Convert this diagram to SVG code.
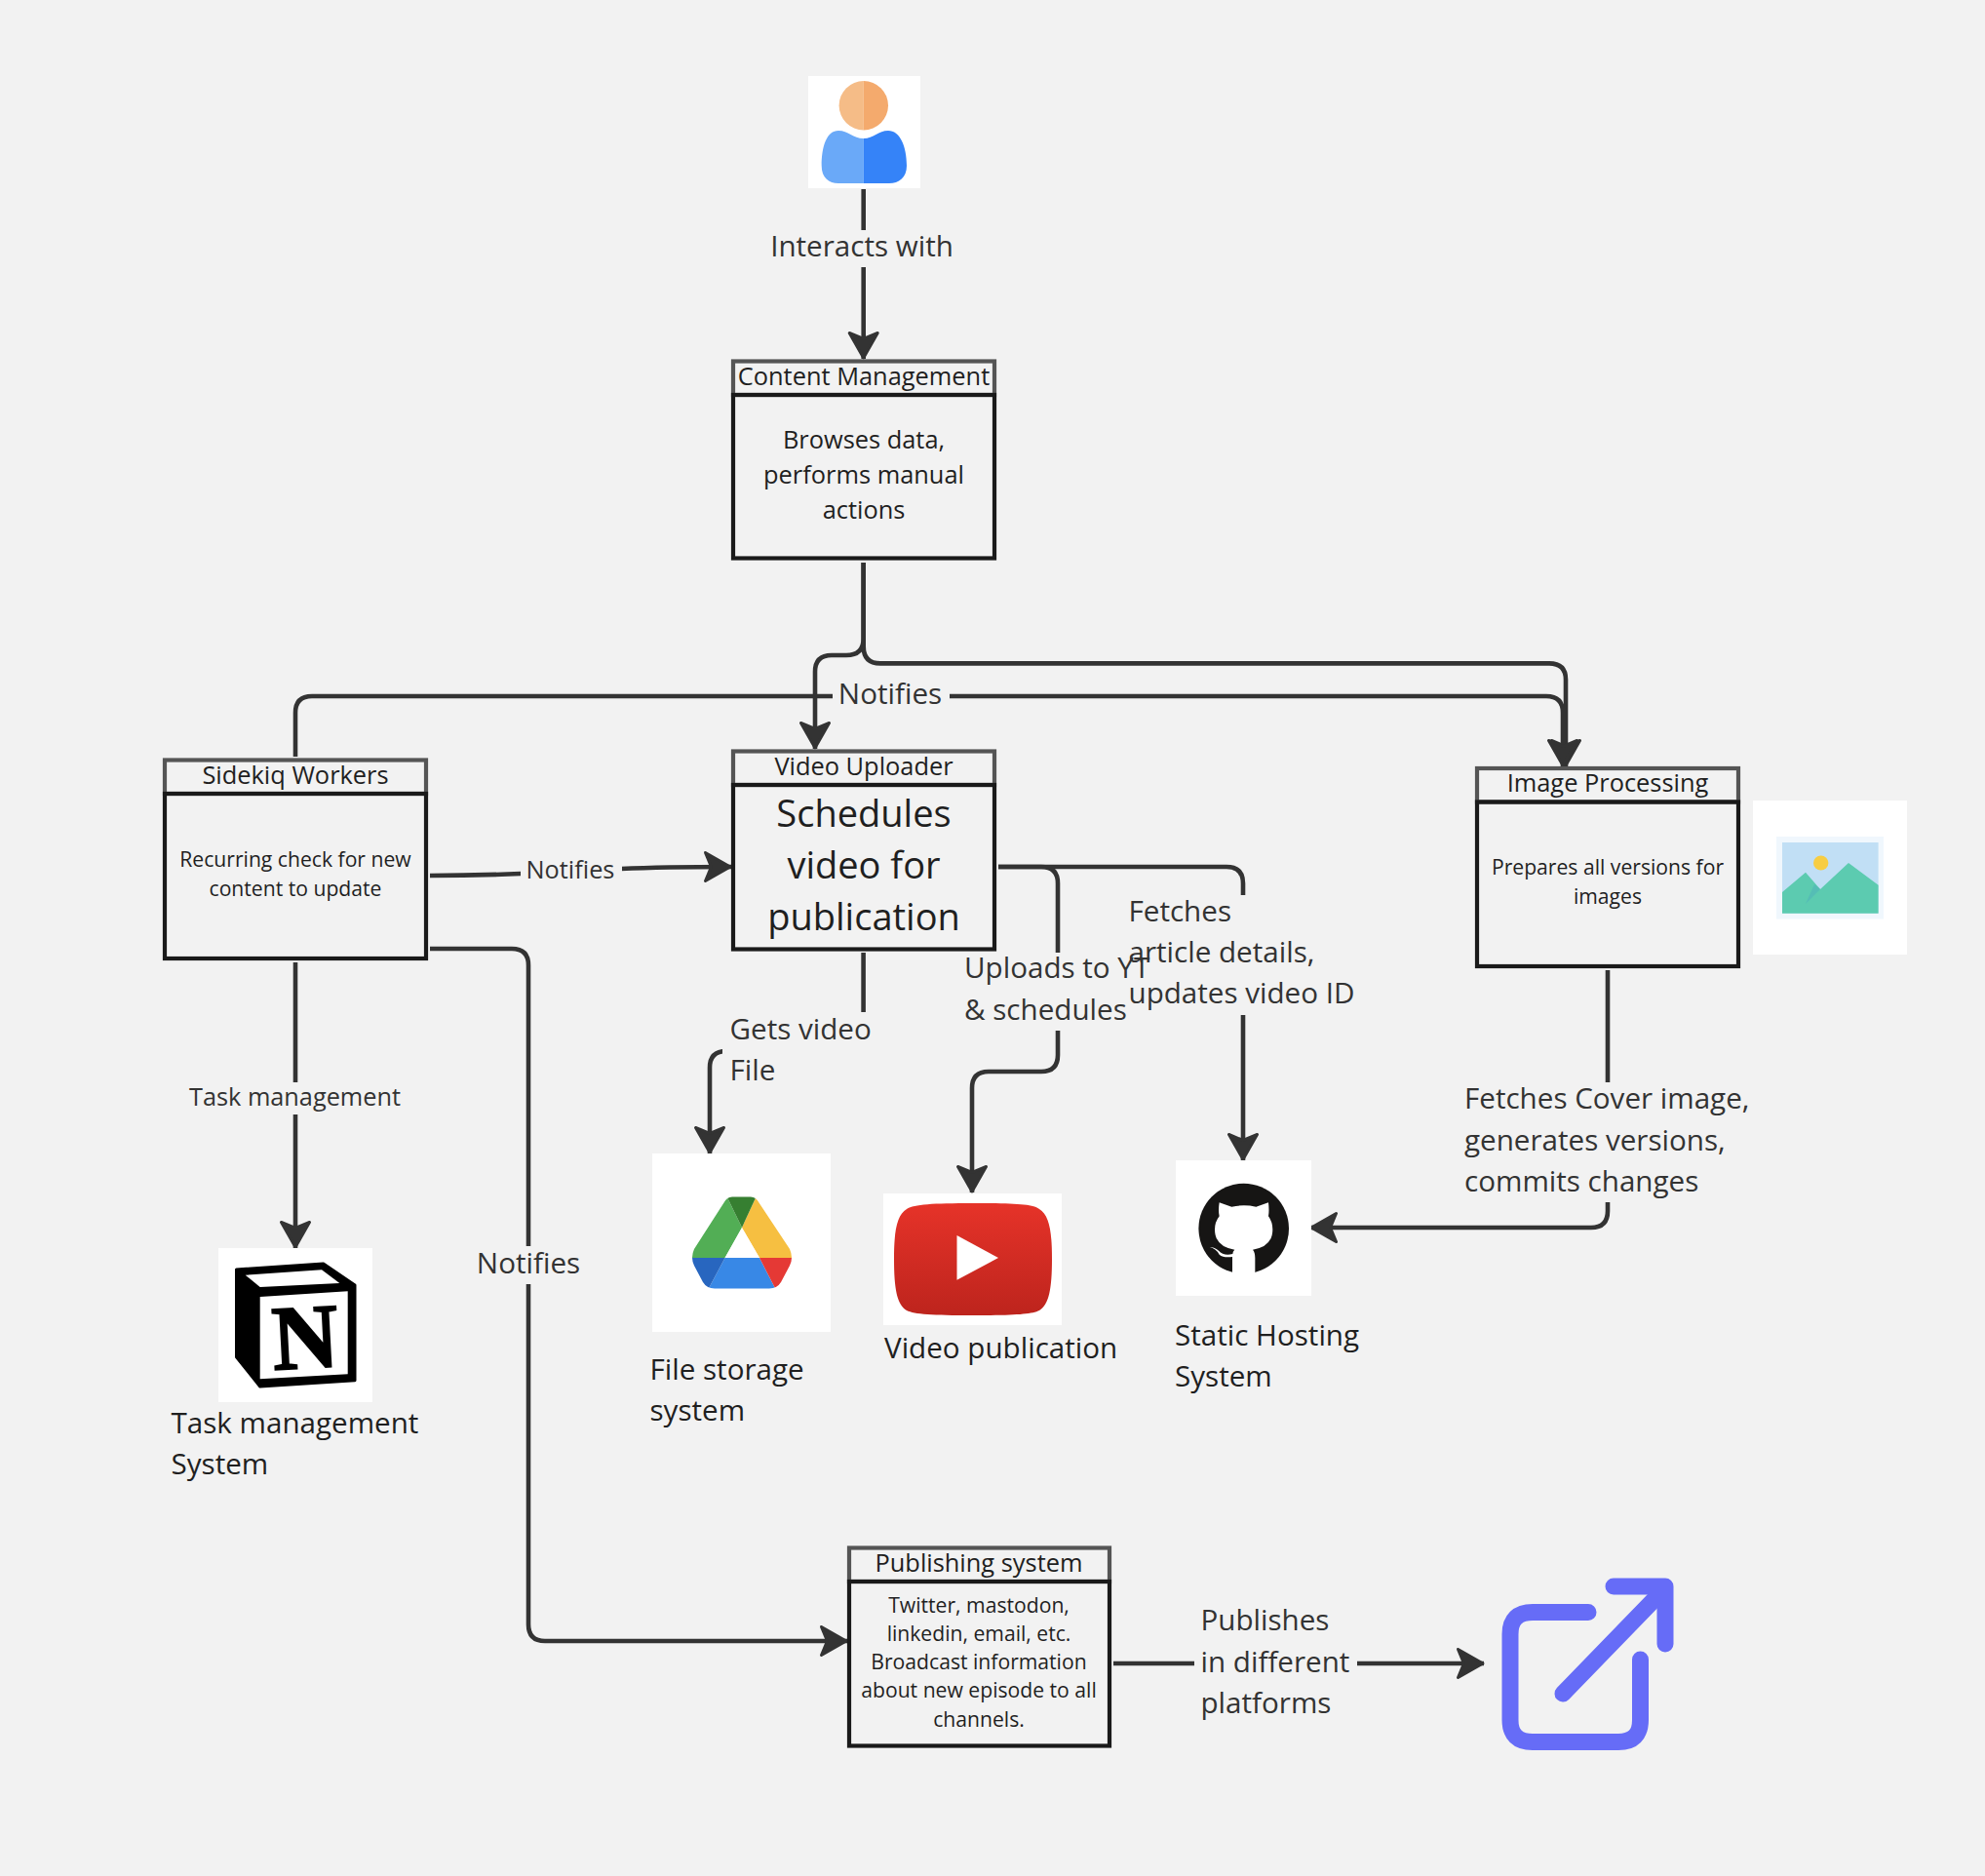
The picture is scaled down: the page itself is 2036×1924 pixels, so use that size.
<svg xmlns="http://www.w3.org/2000/svg" width="2036" height="1924" viewBox="0 0 2036 1924">
<style>
text{font-family:"Open Sans","Noto Sans","DejaVu Sans",sans-serif}
.hd{fill:none;stroke:#555;stroke-width:4.2}
.bd{fill:none;stroke:#1a1a1a;stroke-width:4.2}
.t{fill:#1f1f1f;text-anchor:middle}
.h{font-size:25.4px}
.s{font-size:21.15px}
.c{fill:none;stroke:#333;stroke-width:4.6;stroke-linejoin:round}
.l{fill:#333;font-size:29.6px}
.m{fill:#333;font-size:25.3px}
.d{fill:#1f1f1f;font-size:29.6px}
.bg{fill:#f2f2f2}
</style>
<defs>
<marker id="ah" markerUnits="userSpaceOnUse" markerWidth="36" markerHeight="36" refX="28" refY="16" orient="auto" overflow="visible"><path d="M1.5 1.5L27 16L1.5 30.5L7.5 16Z" fill="#333" stroke="#333" stroke-width="3" stroke-linejoin="round"/></marker>
<linearGradient id="yt" x1="0" y1="0" x2="0" y2="1"><stop offset="0" stop-color="#e63329"/><stop offset="1" stop-color="#bd241d"/></linearGradient>
<clipPath id="drive"><path d="M751 1227.500H770Q775.500 1227.500 778.500 1233.500L810 1281Q814 1290 810 1298L801 1315Q797 1321.500 789 1321.500H733Q725 1321.500 721 1315L712 1298Q708 1290 712 1281L742.500 1233.500Q745.500 1227.500 751 1227.500Z"/></clipPath>
</defs>
<rect width="2036" height="1924" fill="#f2f2f2"/>
<g id="connectors">
<path class="c" marker-end="url(#ah)" d="M885.7 194V368"/>
<path class="c" marker-end="url(#ah)" d="M885.7 577V655Q885.7 672 868 672H853Q836 672 836 689V768"/>
<path class="c" marker-end="url(#ah)" d="M885.7 577V663Q885.7 680.4 903 680.4H1589Q1606 680.4 1606 697V786"/>
<path class="c" marker-end="url(#ah)" d="M303 776V731Q303 714 320 714H1586Q1603 714 1603 731V786"/>
<path class="c" marker-end="url(#ah)" d="M441 898C480 898 510 897 534 896C560 895 600 892 637 891C680 889 715 889 750 889"/>
<path class="c" marker-end="url(#ah)" d="M303 987V1280"/>
<path class="c" marker-end="url(#ah)" d="M441 973H525Q542 973 542 990V1666Q542 1683 559 1683H869"/>
<path class="c" marker-end="url(#ah)" d="M885.6 977V1061Q885.6 1078 868 1078H745Q728 1078 728 1095V1183"/>
<path class="c" marker-end="url(#ah)" d="M1024 889H1068Q1085 889 1085 906V1082Q1085 1099 1068 1099H1014Q997 1099 997 1116V1223"/>
<path class="c" marker-end="url(#ah)" d="M1024 889H1258Q1275 889 1275 906V1190"/>
<path class="c" marker-end="url(#ah)" d="M1649 995V1242Q1649 1259 1632 1259H1344"/>
<path class="c" marker-end="url(#ah)" d="M1142 1706H1522"/>
<rect class="bg" x="785" y="236" width="200" height="38"/>
<rect class="bg" x="854" y="694" width="120" height="38"/>
<rect class="bg" x="534" y="876" width="104" height="32"/>
<rect class="bg" x="185" y="1110" width="236" height="33"/>
<rect class="bg" x="482" y="1278" width="120" height="39"/>
<rect class="bg" x="741" y="1038" width="160" height="80"/>
<rect class="bg" x="984" y="977" width="172" height="80"/>
<rect class="bg" x="1153" y="918" width="240" height="123"/>
<rect class="bg" x="1497" y="1110" width="300" height="123"/>
<rect class="bg" x="1225" y="1640" width="167" height="130"/>
</g>
<g id="user">
<rect x="829" y="78" width="115" height="115" fill="#fff"/>
<path d="M885.8 83A25 25 0 0 0 885.8 133.4Z" fill="#f5bc87"/>
<path d="M885.8 83A25 25 0 0 1 885.8 133.4Z" fill="#f4aa6d"/>
<path d="M885.8 142C875 142 870 134 860 134C848 134 842.7 150 842.7 170C842.7 182 850 188 860 188H885.8Z" fill="#6aa9f8"/>
<path d="M885.8 142C896 142 901 134 911 134C923 134 930 150 930 170C930 182 922 188 912 188H885.8Z" fill="#3583f8"/>
</g>
<g id="content-management">
<rect class="hd" x="752" y="370.5" width="268" height="34.5"/>
<rect class="bd" x="752" y="405" width="268" height="167.500"/>
<text class="t h" x="886" y="395">Content Management</text>
<text class="t h" x="886" y="460">Browses data,</text>
<text class="t h" x="886" y="496">performs manual</text>
<text class="t h" x="886" y="532">actions</text>
</g>
<g id="sidekiq-workers">
<rect class="hd" x="169" y="779.5" width="268" height="34.5"/>
<rect class="bd" x="169" y="814" width="268" height="169"/>
<text class="t h" x="303" y="803.5">Sidekiq Workers</text>
<text class="t s" x="303" y="889">Recurring check for new</text>
<text class="t s" x="303" y="919">content to update</text>
</g>
<g id="video-uploader">
<rect class="hd" x="752" y="770.5" width="268" height="34.5"/>
<rect class="bd" x="752" y="805" width="268" height="168.5"/>
<text class="t h" x="886" y="794.5">Video Uploader</text>
<text class="t" font-size="38" x="886" y="848">Schedules</text>
<text class="t" font-size="38" x="886" y="901">video for</text>
<text class="t" font-size="38" x="886" y="954">publication</text>
</g>
<g id="image-processing">
<rect class="hd" x="1515" y="788" width="268" height="34.5"/>
<rect class="bd" x="1515" y="822.5" width="268" height="168.5"/>
<text class="t h" x="1649" y="812">Image Processing</text>
<text class="t s" x="1649" y="897">Prepares all versions for</text>
<text class="t s" x="1649" y="927">images</text>
</g>
<g id="image-icon">
<rect x="1798" y="821" width="158" height="158" fill="#fff"/>
<rect x="1822" y="858" width="110" height="84.5" fill="#f0f7fd"/>
<rect x="1828" y="864" width="98.6" height="72.7" fill="#c1dff5"/>
<ellipse cx="1867.7" cy="885" rx="7.7" ry="7.5" fill="#f7cd43"/>
<path d="M1828 915L1852 894.7L1867 912L1896 885L1926.6 907.8V936.7H1828Z" fill="#5ccbb0"/>
<path d="M1867 912L1852 927L1861 907Z" fill="#55bdb5"/>
</g>
<g id="publishing-system">
<rect class="hd" x="871" y="1587.5" width="267" height="34.5"/>
<rect class="bd" x="871" y="1622" width="267" height="168.5"/>
<text class="t h" x="1004" y="1612">Publishing system</text>
<text class="t s" x="1004" y="1653.5">Twitter, mastodon,</text>
<text class="t s" x="1004" y="1682.5">linkedin, email, etc.</text>
<text class="t s" x="1004" y="1712">Broadcast information</text>
<text class="t s" x="1004" y="1741">about new episode to all</text>
<text class="t s" x="1004" y="1770.5">channels.</text>
</g>
<g id="google-drive">
<rect x="669" y="1183" width="183" height="183" fill="#fff"/>
<g clip-path="url(#drive)">
<path d="M743 1222L761 1259L743.6 1290H700Z" fill="#52ae55"/>
<path d="M778 1222L822 1290H779L761 1259Z" fill="#f6bf41"/>
<path d="M743 1222H778L761 1259Z" fill="#367f31"/>
<path d="M743.6 1290H779L797 1325H725Z" fill="#3888e6"/>
<path d="M700 1290H743.6L725 1325Z" fill="#2866bf"/>
<path d="M779 1290H822L797 1325Z" fill="#e53935"/>
<path d="M761 1259L779 1290H743.6Z" fill="#fff"/>
</g>
</g>
<g id="youtube">
<rect x="906" y="1224" width="183" height="135" fill="#fff"/>
<path d="M998 1234C1040 1234 1060 1235 1066 1240C1076 1246 1079 1262 1079 1291C1079 1322 1076 1338 1066 1344C1058 1348 1040 1349 998 1349C956 1349 938 1348 930 1344C920 1338 917 1322 917 1291C917 1262 920 1246 930 1240C938 1235 956 1234 998 1234Z" fill="url(#yt)"/>
<path d="M981.5 1267L1024 1290L981.5 1312.7Z" fill="#fff"/>
</g>
<g id="github">
<rect x="1206" y="1190" width="139" height="139" fill="#fff"/>
<circle cx="1275.7" cy="1260" r="46.3" fill="#161514"/>
<path transform="translate(1200 1185) scale(.3333)" fill="#fff" d="M152 145L190 158Q228 150 265 158L303 145Q306 170 303 187Q316 205 316 228Q316 280 255 290Q262 298 262 315V372H192V312Q165 316 152 305Q140 285 123 283Q135 280 150 293Q165 310 193 303Q193 295 199 290Q138 280 138 228Q138 205 152 187Q148 170 152 145Z"/>
</g>
<g id="notion">
<rect x="224" y="1280" width="158" height="158" fill="#fff"/>
<path d="M242.5 1302L331.7 1296L364 1318V1415.7L266.7 1422L242.5 1391.7Z" fill="#000" stroke="#000" stroke-width="3" stroke-linejoin="round"/>
<path d="M251.7 1307.7L330 1302.3L348.3 1316L266.7 1320Z" fill="#fff"/>
<path d="M266.7 1330L356.7 1324.3V1409.3L266.7 1414.3Z" fill="#fff"/>
<text x="313" y="1403" font-size="94" font-weight="700" text-anchor="middle" stroke="#000" stroke-width="2" transform="rotate(-3 313 1370)" style="font-family:'Liberation Serif',serif" fill="#000">N</text>
</g>
<g id="external-link" fill="none" stroke="#666cf7" stroke-width="17" stroke-linecap="round" stroke-linejoin="round">
<path d="M1629 1653.5H1572Q1549 1653.5 1549 1676V1764Q1549 1786.5 1572 1786.5H1660Q1682.5 1786.5 1682.5 1764V1702"/>
<path d="M1603 1737L1700 1637"/>
<path d="M1655 1627H1708V1686"/>
</g>
<g id="labels">
<text class="l" x="884" y="263" text-anchor="middle">Interacts with</text>
<text class="l" x="913" y="722" text-anchor="middle">Notifies</text>
<text class="m" x="585" y="901" text-anchor="middle">Notifies</text>
<text class="m" x="302.500" y="1134" text-anchor="middle">Task management</text>
<text class="l" x="542" y="1306" text-anchor="middle">Notifies</text>
<text class="l" x="748.5" y="1066">Gets video</text>
<text class="l" x="748.5" y="1108">File</text>
<text class="l" x="989" y="1003">Uploads to YT</text>
<text class="l" x="989" y="1046">&amp; schedules</text>
<text class="l" x="1157.500" y="945">Fetches</text>
<text class="l" x="1157.500" y="987">article details,</text>
<text class="l" x="1157.500" y="1029">updates video ID</text>
<text class="l" x="1502" y="1137">Fetches Cover image,</text>
<text class="l" x="1502" y="1180">generates versions,</text>
<text class="l" x="1502" y="1222">commits changes</text>
<text class="l" x="1231.5" y="1672">Publishes</text>
<text class="l" x="1231.5" y="1715">in different</text>
<text class="l" x="1231.5" y="1757">platforms</text>
<text class="d" x="175.5" y="1469.500">Task management</text>
<text class="d" x="175.5" y="1512">System</text>
<text class="d" x="666.5" y="1415">File storage</text>
<text class="d" x="666.5" y="1457">system</text>
<text class="d" x="907" y="1393">Video publication</text>
<text class="d" x="1205" y="1380">Static Hosting</text>
<text class="d" x="1205" y="1422">System</text>
</g>
</svg>
